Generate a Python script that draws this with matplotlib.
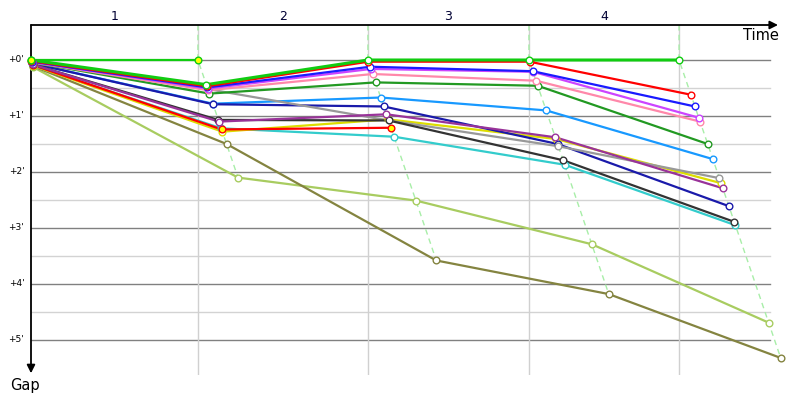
import matplotlib as mpl
mpl.use('Agg')
import numpy as np
import matplotlib.pyplot as plt

# leader passing time at each checkpoint (minutes)
checkpoints = [0.0, 8.74, 17.64, 26.07, 33.93]
segment_labels = ['1', '2', '3', '4']
gap_ticks = [0, 1, 2, 3, 4, 5]
gap_labels = ["+0'", "+1'", "+2'", "+3'", "+4'", "+5'"]

# gap to leader (minutes) at each checkpoint, one list per rider
gap_lightolive = [0.13, 2.10, 2.51, 3.29, 4.69]
gap_olive      = [0.11, 1.50, 3.58, 4.18, 5.32]
gap_cyan       = [0.10, 1.22, 1.37, 1.87, 2.95]
gap_yellow     = [0.10, 1.28, 1.06, 1.41, 2.20]
gap_red2       = [0.09, 1.24, 1.21]
gap_black      = [0.08, 1.07, 1.08, 1.79, 2.89]
gap_purple     = [0.08, 1.10, 0.97, 1.38, 2.29]
gap_navy       = [0.06, 0.79, 0.83, 1.50, 2.61]
gap_dodger     = [0.06, 0.78, 0.67, 0.90, 1.77]
gap_gray       = [0.05, 0.52, 1.08, 1.54, 2.11]
gap_darkgreen  = [0.04, 0.60, 0.40, 0.46, 1.50]
gap_pink       = [0.04, 0.54, 0.25, 0.37, 1.10]
gap_violet     = [0.03, 0.51, 0.16, 0.21, 1.03]
gap_blue       = [0.03, 0.49, 0.12, 0.20, 0.83]
gap_red        = [0.02, 0.47, 0.03, 0.03, 0.62]
gap_lime2      = [0.00, 0.44, 0.00, 0.00, 0.00]
gap_lime1      = [0.00, 0.00]

riders = [
	(gap_lightolive, '#a8cc60'),
	(gap_olive, '#848440'),
	(gap_cyan, '#33cccc'),
	(gap_yellow, '#dddd00'),
	(gap_red2, '#ff0000'),
	(gap_dodger, '#1899ff'),
	(gap_navy, '#1a1aaa'),
	(gap_gray, '#999999'),
	(gap_black, '#333333'),
	(gap_purple, '#993399'),
	(gap_darkgreen, '#229922'),
	(gap_pink, '#ff88aa'),
	(gap_violet, '#cc44ff'),
	(gap_blue, '#1a1aff'),
	(gap_red, '#ff0000'),
	(gap_lime2, '#11cc11'),
	(gap_lime1, '#11cc11'),
]
# (rider index, checkpoint index) drawn with a yellow marker
yellow_marks = [(16, 0), (16, 1), (4, 1), (4, 2)]

xmax = 39.11
ytop = -0.625
ybot = 5.625

fig = plt.figure(figsize=(8, 4), dpi=100)
ax = fig.add_axes([31/800., 25/400., 747/800., 350/400.])
ax.set_xlim(0, xmax)
ax.set_ylim(ybot, ytop)
for s in ax.spines.values():
	s.set_visible(False)
ax.set_xticks([])
ax.set_yticks([])

# horizontal grid
for g in np.arange(0.5, 5.0, 1.0):
	ax.plot([0, 38.7], [g, g], color='#d3d3d3', lw=1, zorder=1)
for g in gap_ticks:
	ax.plot([0, 38.7], [g, g], color='#808080', lw=1, zorder=1)
# checkpoint verticals
for t in checkpoints[1:]:
	ax.plot([t, t], [ytop, ybot], color='#d0d0d0', lw=1, zorder=1)

# leader iso-lines (x = time + gap)
for i, t in enumerate(checkpoints):
	if i == 0:
		continue
	gmax = max(r[0][i] for r in riders if len(r[0]) > i)
	ax.plot([t, t, t + gmax], [ytop, 0, gmax], color='#a8eea8', lw=1,
		ls=(0, (4, 3)), zorder=2, clip_on=False)

for k, (gaps, col) in enumerate(riders):
	xs = [checkpoints[i] + g for i, g in enumerate(gaps)]
	lw = 2.2 if k == 15 else 1.6
	ax.plot(xs, gaps, color=col, lw=lw, zorder=3, clip_on=False, solid_joinstyle='round')
	for i in range(len(gaps)):
		fc = '#ffff00' if (k, i) in yellow_marks else 'white'
		ax.plot(xs[i], gaps[i], 'o', ms=4.8, mfc=fc, mec=col, mew=1.0,
			zorder=4, clip_on=False)

# axes with arrows
ax.annotate('', xy=(1.0, 1.0), xytext=(0, 1.0), xycoords='axes fraction',
	arrowprops=dict(arrowstyle='-|>', color='black', lw=1.3, mutation_scale=12,
	shrinkA=0, shrinkB=0), annotation_clip=False)
ax.annotate('', xy=(0, 0.005), xytext=(0, 1.0), xycoords='axes fraction',
	arrowprops=dict(arrowstyle='-|>', color='black', lw=1.3, mutation_scale=12,
	shrinkA=0, shrinkB=0), annotation_clip=False)

for i, lab in enumerate(segment_labels):
	xm = (checkpoints[i] + checkpoints[i+1]) / 2.
	ax.text(xm, 1.023, lab, transform=ax.get_xaxis_transform(), ha='center',
		va='center', fontsize=9, color='#000033')
for g, lab in zip(gap_ticks, gap_labels):
	ax.text(-0.009, g, lab, transform=ax.get_yaxis_transform(), ha='right',
		va='center', fontsize=6.5, color='black')

ax.text(0.977, 0.971, 'Time', transform=ax.transAxes, ha='center', va='center',
	fontsize=10.5, color='black')
ax.text(-0.008, -0.03, 'Gap', transform=ax.transAxes, ha='center', va='center',
	fontsize=10.5, color='black')

plt.savefig('out.png', dpi=100)
